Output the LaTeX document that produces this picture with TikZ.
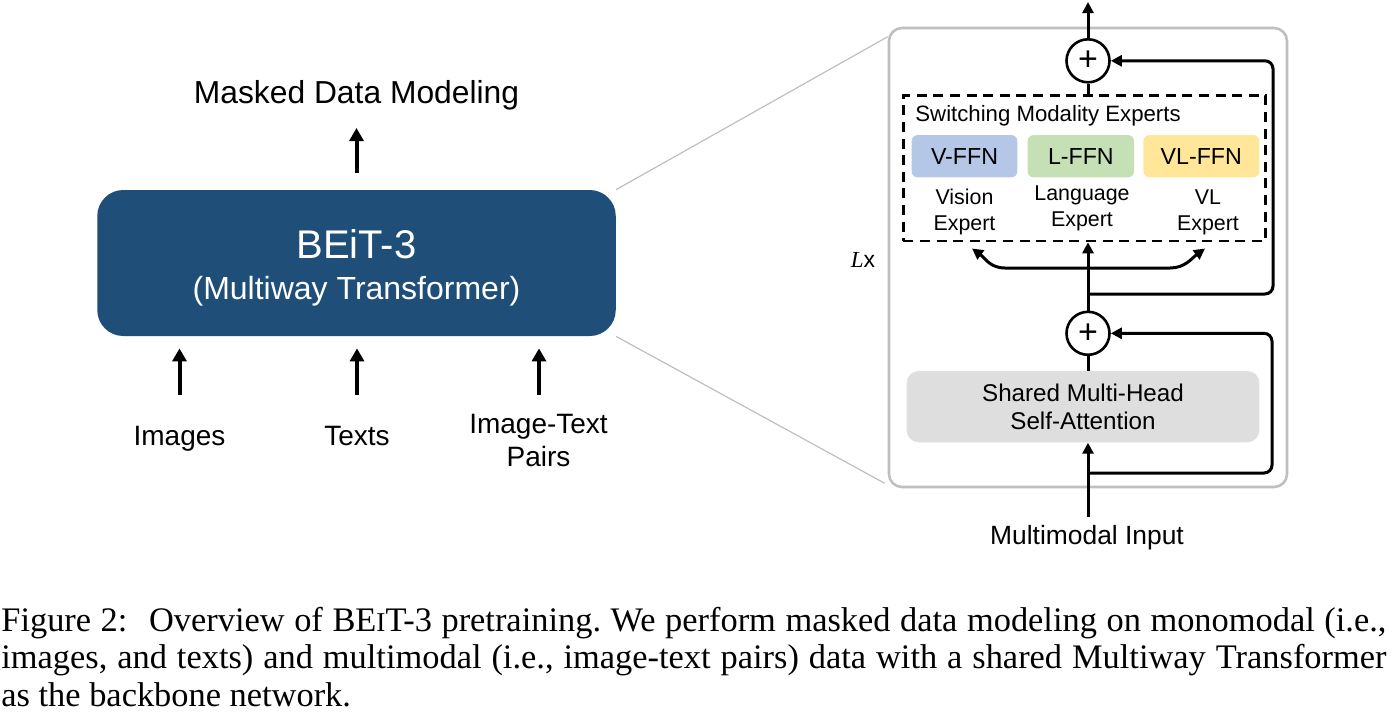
\documentclass[tikz,border=0pt]{standalone}
\usepackage{fontspec}
\setmainfont{Liberation Sans}
\newfontfamily\capfont{Liberation Serif}
\usepackage{xcolor}
\definecolor{beitblue}{RGB}{31,78,121}
\definecolor{vblue}{RGB}{180,199,231}
\definecolor{lgreen}{RGB}{197,224,180}
\definecolor{vlyellow}{RGB}{255,230,153}
\definecolor{attgray}{RGB}{222,222,222}
\definecolor{framegray}{RGB}{191,191,191}
\usepackage{tikz}
\usetikzlibrary{arrows.meta, positioning, calc}
\newcommand\inputfont{\fontsize{14}{16.85}\selectfont}
\newcommand\capline[1]{\makebox[692.5pt][s]{#1}}
\tikzset{
  lbl/.style={inner sep=0pt, anchor=base},
  beitblock/.style={rectangle, rounded corners=13pt, fill=beitblue, minimum width=259.25pt, minimum height=73pt},
  bigarrow/.style={line width=2pt, -{Triangle[length=6.5pt,width=7pt]}},
  zoomline/.style={framegray, line width=0.6pt},
  panel/.style={draw=framegray, line width=1.3pt, rounded corners=6.5pt, minimum width=199pt, minimum height=229.5pt},
  expertbox/.style={draw, line width=1.3pt, dash pattern=on 5pt off 3.3pt, minimum width=181.2pt, minimum height=72.65pt},
  ffn/.style={rectangle, rounded corners=3pt, minimum height=21.15pt, inner sep=0pt, font=\fontsize{11.6}{14}\selectfont},
  elbl/.style={lbl, align=center, font=\fontsize{10.7}{13}\selectfont},
  addnode/.style={circle, draw, line width=1.3pt, minimum size=21.5pt, inner sep=0pt, font=\fontsize{17}{17}\selectfont},
  attnbox/.style={rectangle, rounded corners=6pt, fill=attgray, minimum width=176.3pt, minimum height=35.65pt, align=center, font=\fontsize{12.1}{14.15}\selectfont},
  ln/.style={line width=1.5pt},
  arr/.style={line width=1.5pt, -{Triangle[length=5.5pt,width=5.5pt]}},
  arrboth/.style={line width=1.5pt, {Triangle[length=5.5pt,width=5.5pt]}-{Triangle[length=5.5pt,width=5.5pt]}},
}
\begin{document}
\begin{tikzpicture}[x=0.5pt, y=-0.5pt]
    \useasboundingbox (0,0) rectangle (1395,714);

    % BEiT-3 block
    \node[beitblock] (beit) at (356.5,263) {};
    \node[lbl, text=white, font=\fontsize{20}{24}\selectfont] (beitname) at (356.5,258.3) {BEiT-3};
    \node[lbl, text=white, font=\fontsize{16}{19}\selectfont] (beitsub) at (356.5,299) {(Multiway Transformer)};

    % output
    \node[lbl, font=\fontsize{15.9}{18}\selectfont] (mdm) at (356.5,103) {Masked Data Modeling};
    \coordinate (mdmtip) at (356.5,128);
    \draw[bigarrow] ([yshift=8.5pt]beit.north) -- (mdmtip);

    % inputs (base of a two-line label is its last line)
    \node[lbl, font=\inputfont] (images) at (179.5,445) {Images};
    \node[lbl, font=\inputfont] (texts) at (357,445) {Texts};
    \node[lbl, font=\inputfont, align=center] (pairs) at (538.5,466.7) {Image-Text\\Pairs};
    \foreach \nm/\xx in {img/179.5, txt/357, pair/539}
        \coordinate (in\nm) at (\xx,395);
    \foreach \nm in {img, txt, pair}
        \draw[bigarrow, shorten >=6pt] (in\nm) -- (in\nm |- beit.south);

    % one layer, zoomed in
    \node[panel] (panel) at (1088,257.5) {};
    \draw[zoomline] (beit.north east) -- ([yshift=-5pt]panel.north west);
    \draw[zoomline] (beit.south east) -- ([xshift=-1.5pt,yshift=2.5pt]panel.south west);
    \node[lbl, font=\fontsize{11.5}{14}\selectfont] (lx) at (863,267) {{\capfont\itshape L}x};

    % experts
    \node[expertbox] (experts) at (1084.5,168.35) {};
    \node[lbl, anchor=base west, font=\fontsize{11.1}{13}\selectfont] (swtitle) at (915,121.7) {Switching Modality Experts};
    \node[ffn, fill=vblue, minimum width=52.8pt] (vffn) at (964.5,156.2) {V-FFN};
    \node[ffn, fill=lgreen, minimum width=53.15pt] (lffn) at (1080.85,156.2) {L-FFN};
    \node[ffn, fill=vlyellow, minimum width=58pt] (vlffn) at (1201.3,156.2) {VL-FFN};
    \node[elbl] (vexp) at (964.5,230) {Vision\\Expert};
    \node[elbl] (lexp) at (1082,226.7) {Language\\Expert};
    \node[elbl] (vlexp) at (1208,230) {VL\\Expert};

    % attention and adds
    \node[addnode] (addtop) at (1088,60.8) {+};
    \node[addnode] (addbot) at (1088,333.3) {+};
    \node[attnbox] (attn) at (1083,406.65) {Shared Multi-Head\\Self-Attention};
    \node[lbl, font=\fontsize{13.2}{16}\selectfont] (mminput) at (1087,544) {Multimodal Input};

    \coordinate (intail) at (1088,517);
    \coordinate (layerout) at (1088,2);
    \coordinate (skipa) at (1088,473);
    \coordinate (skipb) at (1088,294);
    \coordinate (vin) at (972,248.5);
    \coordinate (vlin) at (1205,248.5);

    % connectors
    \draw[arr] (intail) -- (intail |- attn.south);
    \draw[ln] (attn.north -| addbot) -- (addbot.south);
    \draw[arr, rounded corners=4pt] (skipa) -- ++(184,0) |- (addbot.east);
    \draw[arr] (addbot.north) -- (addbot.north |- experts.south);
    \draw[arrboth] (vin) .. controls (985,258) and (990,268) .. (1005,268)
        -- (1170,268) .. controls (1185,268) and (1192,258) .. (vlin);
    \draw[arr, rounded corners=4pt] (skipb) -- ++(185,0) |- (addtop.east);
    \draw[ln] (experts.north -| addtop) -- (addtop.south);
    \draw[arr] (addtop.north) -- (layerout);

    % caption
    \node[lbl, anchor=base west, align=left, font=\capfont\fontsize{17.2}{18.75}\selectfont\frenchspacing] (caption) at (1,706)
    {\capline{Figure 2:\hspace{0.35em} Overview of BE{\fontsize{13.6}{13.6}\selectfont I}T-3 pretraining. We perform masked data modeling on monomodal (i.e.,}\\
     \capline{images, and texts) and multimodal (i.e., image-text pairs) data with a shared Multiway Transformer}\\
     as the backbone network.};
\end{tikzpicture}
\end{document}
